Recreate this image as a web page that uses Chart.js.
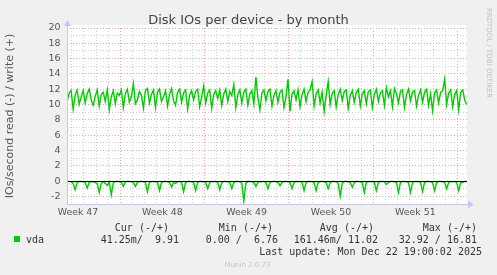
<!DOCTYPE html>
<html>
<head>
<meta charset="utf-8">
<script src="https://cdn.jsdelivr.net/npm/chart.js@4.4.1/dist/chart.umd.min.js"></script>
<style>
  body { margin: 0; background: #f0f0f0; }
  canvas { display: block; }
</style>
</head>
<body>
<canvas id="Disk" width="497" height="275"></canvas>
<script>
// days counted from Mon 17 Nov 2025 00:00 (start of week 47)
const weekNumbers = [47, 48, 49, 50, 51];
const yLabelTicks = [-2, 0, 2, 4, 6, 8, 10, 12, 14, 16, 18, 20];
const startDay = 2.6;
const stepDay = 1 / 6; // one sample every 4 hours

// write IOs/s (+)
const writeValues = [
  10.4, 11.5, 11.8, 9.4, 11.2, 11.9, 10.0, 11.0, 11.8, 10.2, 11.4, 12.0, 10.6, 9.9, 11.1, 11.9, 9.8, 11.3, 11.6, 10.4,
  11.9, 9.3, 11.0, 11.8, 10.1, 11.5, 11.2, 11.9, 9.6, 11.4, 12.0, 10.3, 11.0, 12.7, 10.1, 10.6, 11.7, 11.2, 9.5, 11.8,
  12.1, 10.2, 11.3, 11.9, 9.6, 11.6, 12.0, 10.4, 11.0, 11.8, 9.8, 11.3, 12.1, 10.5, 9.9, 11.6, 12.0, 10.3, 11.5, 11.9,
  9.4, 11.2, 11.8, 10.6, 11.7, 12.0, 9.7, 11.0, 12.4, 10.2, 11.5, 11.9, 9.5, 11.3, 11.8, 10.8, 11.9, 9.9, 11.4, 12.0,
  10.4, 11.7, 11.2, 12.6, 9.6, 11.3, 11.9, 10.2, 11.6, 12.0, 9.9, 11.4, 11.8, 10.1, 13.6, 10.9, 9.3, 11.5, 11.9, 10.5,
  11.7, 12.0, 9.8, 11.2, 11.8, 10.3, 11.6, 11.9, 9.6, 11.0, 13.3, 9.1, 11.4, 11.8, 10.6, 11.9, 9.7, 11.3, 12.0, 10.4,
  11.6, 11.9, 13.0, 9.8, 11.4, 11.9, 10.2, 11.6, 9.1, 11.2, 13.0, 10.0, 11.5, 11.8, 9.7, 11.3, 12.0, 10.5, 11.7, 11.9,
  9.5, 11.2, 11.8, 10.3, 11.6, 12.0, 9.8, 11.4, 11.8, 10.1, 11.7, 11.9, 9.6, 11.3, 12.0, 10.4, 11.5, 11.8, 9.9, 12.2,
  11.0, 11.8, 9.7, 12.1, 11.4, 10.2, 11.7, 11.9, 9.6, 11.3, 12.0, 10.5, 11.6, 11.8, 9.8, 11.2, 11.9, 10.3, 11.6, 12.0,
  9.9, 11.4, 9.2, 11.5, 11.9, 10.2, 11.6, 11.8, 13.3, 10.0, 11.5, 11.9, 9.7, 11.3, 11.8, 9.3, 11.6, 11.9, 10.6, 10.0
];

// read IOs/s, drawn negative (-)
const readValues = [
  -0.05, -0.05, -0.1, -0.3, -1.15, -0.2, -0.05, -0.05, -0.1, -0.2, -0.9, -0.2, -0.05, -0.1, -0.2, -0.3, -1.5, -0.3, -0.1, -0.3,
  -0.6, -0.1, -1.8, -0.2, -0.05, -0.05, -0.05, -0.2, -0.7, -0.1, -0.05, -0.05, -0.1, -0.2, -0.7, -0.2, -0.05, -0.05, -0.1, -0.2,
  -1.4, -0.2, -0.05, -0.1, -0.05, -0.2, -1.25, -0.2, -0.05, -0.05, -0.1, -0.2, -0.8, -0.2, -0.3, -0.1, -0.05, -0.2, -1.4, -0.2,
  -0.05, -0.05, -0.1, -0.2, -1.25, -0.2, -0.05, -0.05, -0.1, -0.2, -1.0, -0.2, -0.05, -0.1, -0.05, -0.2, -1.15, -0.2, -0.05, -0.05,
  -0.1, -0.2, -1.0, -0.2, -0.05, -0.05, -0.1, -0.3, -2.65, -0.3, -0.05, -0.05, -0.1, -0.2, -0.7, -0.2, -0.05, -0.1, -0.05, -0.2,
  -1.0, -0.2, -0.05, -0.05, -0.1, -0.2, -0.6, -0.2, -0.05, -0.05, -0.1, -0.2, -1.0, -0.2, -0.05, -0.1, -0.05, -0.2, -1.25, -0.2,
  -0.05, -0.05, -0.1, -0.2, -1.25, -0.2, -0.05, -0.05, -0.1, -0.2, -1.0, -0.2, -0.05, -0.05, -0.1, -0.3, -2.0, -0.3, -0.05, -0.05,
  -0.1, -0.2, -0.8, -0.2, -0.05, -0.05, -0.1, -0.2, -1.5, -0.2, -0.05, -0.1, -0.05, -0.2, -1.25, -0.2, -0.05, -0.05, -0.1, -0.45,
  -0.2, -0.05, -0.05, -0.1, -0.2, -1.5, -0.2, -0.05, -0.05, -0.1, -0.2, -1.5, -0.2, -0.05, -0.1, -0.05, -0.2, -1.35, -0.2, -0.05,
  -0.05, -0.1, -0.2, -1.25, -0.2, -0.05, -0.05, -0.1, -0.2, -1.0, -0.2, -0.05, -0.1, -0.05, -0.2, -1.25, -0.2, -0.2, -0.05, -0.05
];

const legendHeaders = ['Cur (-/+)', 'Min (-/+)', 'Avg (-/+)', 'Max (-/+)'];
const legendValues = ['41.25m/  9.91', '0.00 /  6.76', '161.46m/ 11.02', '32.92 / 16.81'];
const seriesName = 'vda';
const lastUpdate = 'Last update: Mon Dec 22 19:00:02 2025';

const xMin = 2.59, xMax = 35.79;
const GREEN = '#00cc00';
const MINOR = '#cfcfcf';
const MAJOR = '#eba3a3';
const AXIS = '#c4c6f2';

const toPoints = vals => vals.map((v, i) => ({ x: startDay + i * stepDay, y: v }));

const muninDecor = {
  id: 'muninDecor',
  beforeDraw(chart) {
    const { ctx, chartArea: a } = chart;
    ctx.save();
    ctx.fillStyle = '#f0f0f0';
    ctx.fillRect(0, 0, chart.width, chart.height);
    ctx.fillStyle = '#ffffff';
    ctx.fillRect(a.left, a.top - 3, a.right - a.left, a.bottom - a.top + 3);
    ctx.restore();
  },
  afterDatasetsDraw(chart) {
    const { ctx, chartArea: a, scales } = chart;
    const y0 = Math.round(scales.y.getPixelForValue(0)) + 0.5;
    ctx.save();
    ctx.lineWidth = 1;
    ctx.strokeStyle = '#000';
    ctx.beginPath(); ctx.moveTo(a.left, y0); ctx.lineTo(a.right, y0); ctx.stroke();

    ctx.strokeStyle = AXIS;
    ctx.fillStyle = AXIS;
    const lx = Math.round(a.left) + 0.5, by = Math.round(a.bottom) + 0.5;
    ctx.beginPath(); ctx.moveTo(lx, by); ctx.lineTo(lx, a.top - 4); ctx.stroke();
    ctx.beginPath(); ctx.moveTo(lx, by); ctx.lineTo(a.right + 4, by); ctx.stroke();
    ctx.beginPath(); ctx.moveTo(lx - 3.5, a.top - 2); ctx.lineTo(lx + 3.5, a.top - 2); ctx.lineTo(lx, a.top - 8); ctx.closePath(); ctx.fill();
    ctx.beginPath(); ctx.moveTo(a.right + 1, by - 3.5); ctx.lineTo(a.right + 1, by + 3.5); ctx.lineTo(a.right + 7, by); ctx.closePath(); ctx.fill();
    ctx.restore();
  },
  afterDraw(chart) {
    const ctx = chart.ctx;
    ctx.save();
    ctx.fillStyle = '#444';
    ctx.font = '13px "DejaVu Sans"';
    ctx.textAlign = 'center';
    ctx.textBaseline = 'alphabetic';
    ctx.fillText('Disk IOs per device - by month', 248.5, 24);

    // watermark on the right
    ctx.save();
    ctx.translate(487, 53);
    ctx.rotate(Math.PI / 2);
    ctx.fillStyle = '#c0c0c0';
    ctx.font = '7px "DejaVu Sans"';
    ctx.fillText('RRDTOOL / TOBI OETIKER', 0, 0);
    ctx.restore();

    // legend
    ctx.fillStyle = GREEN;
    ctx.fillRect(14, 236, 6, 6);
    ctx.fillStyle = '#333';
    ctx.font = '10px "DejaVu Sans Mono"';
    ctx.textAlign = 'left';
    ctx.fillText(seriesName, 26, 243);
    const rightEdges = [169, 273, 374, 477];
    const valueEdges = [179, 278, 378, 477];
    ctx.textAlign = 'right';
    legendHeaders.forEach((h, i) => ctx.fillText(h, rightEdges[i], 231));
    legendValues.forEach((v, i) => ctx.fillText(v, valueEdges[i], 243));
    ctx.fillText(lastUpdate, 482, 254.5);

    ctx.textAlign = 'center';
    ctx.fillStyle = '#c4c4c4';
    ctx.font = '7px "DejaVu Sans"';
    ctx.fillText('Munin 2.0.73', 247.5, 267);
    ctx.restore();
  }
};

new Chart(document.getElementById('Disk'), {
  type: 'line',
  data: {
    datasets: [
      { label: 'vda read', data: toPoints(readValues), borderColor: GREEN, borderWidth: 1.4, pointRadius: 0, tension: 0, fill: false },
      { label: 'vda write', data: toPoints(writeValues), borderColor: GREEN, borderWidth: 1.4, pointRadius: 0, tension: 0, fill: false }
    ]
  },
  options: {
    responsive: false,
    animation: false,
    devicePixelRatio: 1,
    layout: { padding: { top: 28, right: 30, left: 0, bottom: 0 } },
    plugins: { legend: { display: false }, title: { display: false }, tooltip: { enabled: false } },
    scales: {
      x: {
        type: 'linear',
        min: xMin,
        max: xMax,
        afterBuildTicks(scale) {
          const ticks = [];
          for (let d = Math.ceil(xMin); d <= xMax; d++) ticks.push({ value: d });
          weekNumbers.forEach((w, i) => ticks.push({ value: 3.5 + 7 * i }));
          ticks.sort((p, q) => p.value - q.value);
          scale.ticks = ticks;
        },
        afterFit(scale) { scale.height = 71; },
        grid: {
          drawTicks: false,
          color: c => {
            const v = c.tick ? c.tick.value : 0;
            if (!Number.isInteger(v)) return 'rgba(0,0,0,0)';
            return v % 7 === 0 ? MAJOR : MINOR;
          }
        },
        border: { display: false, dash: [1, 2] },
        ticks: {
          autoSkip: false,
          maxRotation: 0,
          padding: 3,
          color: '#555',
          font: { family: 'DejaVu Sans', size: 9.4 },
          callback: v => {
            const idx = (v - 3.5) / 7;
            return Number.isInteger(idx) && weekNumbers[idx] ? 'Week ' + weekNumbers[idx] : '';
          }
        }
      },
      y: {
        min: -3,
        max: 20,
        afterBuildTicks(scale) {
          const ticks = [];
          for (let v = -3; v <= 20; v++) ticks.push({ value: v });
          scale.ticks = ticks;
        },
        afterFit(scale) { scale.width = 67; },
        grid: {
          drawTicks: false,
          color: c => (c.tick && c.tick.value % 2 === 0 ? MAJOR : MINOR)
        },
        border: { display: false, dash: [1, 2] },
        ticks: {
          autoSkip: false,
          padding: 6.5,
          color: '#555',
          font: { family: 'DejaVu Sans', size: 9.5 },
          callback: v => (yLabelTicks.includes(v) ? String(v) : '')
        },
        title: {
          display: true,
          text: 'IOs/second read (-) / write (+)',
          color: '#555',
          font: { family: 'DejaVu Sans', size: 11 },
          padding: { top: 4, bottom: 0 }
        }
      }
    }
  },
  plugins: [muninDecor]
});
</script>
</body>
</html>
